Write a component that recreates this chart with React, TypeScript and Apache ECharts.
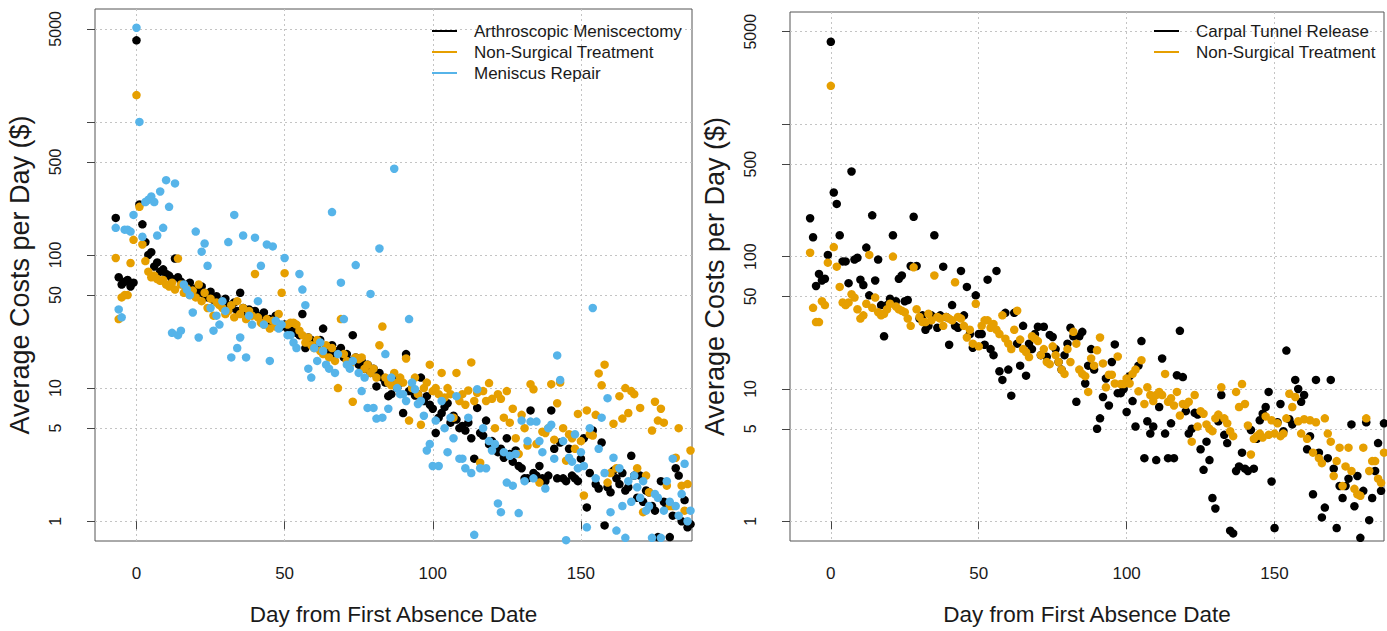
import React, { useEffect, useRef } from "react";
import * as echarts from "echarts";

// First day of every series; each array holds one value per day from START_DAY on.
const START_DAY = -7;

const xTicks = [0, 50, 100, 150];
const yTickLabels = [1, 5, 10, 50, 100, 500, 5000];
const yGridValues = [1, 5, 10, 50, 100, 500, 1000, 5000];

// Left panel
const meniscectomy = [
  190, 68, 60, 63, 65, 58, 62,
  4100, 240, 170, 125, 100, 105, 82, 88, 75, 78,
  72, 70, 66, 94, 68, 63, 60, 58, 62, 55,
  56, 52, 58, 50, 48, 53, 46, 49, 45, 44,
  47, 42, 40, 44, 38, 52, 40, 37, 39, 36,
  38, 35, 34, 37, 32, 33, 31, 35, 30, 29,
  30, 28, 27, 29, 26, 25, 36, 20, 24, 23,
  22, 21, 23, 28, 20, 19, 21, 18, 19, 20,
  17, 18, 16, 25, 17, 15, 16, 14, 15, 13,
  14, 10.3, 13, 12, 11, 8.7, 9, 12, 10, 11,
  6.5, 18, 9.5, 10, 8.8, 9, 12, 8, 8.7, 7.5,
  7, 4.6, 6, 6.5, 7.2, 7.7, 5.5, 6.2, 5.8, 5,
  5.2, 4.8, 5.5, 4.2, 2.95, 7.1, 4.6, 4.4, 5.7, 3.8,
  4, 3.6, 3.3, 3.5, 3, 4.2, 3.2, 2.8, 3.4, 2.6,
  2.5, 2.1, 2.1, 6.8, 2.3, 2.2, 2.6, 2.1, 2.0, 2.2,
  6.8, 3.5, 2.1, 3.9, 2.1, 2.0, 3.5, 2.2, 2.1, 2.0,
  2.95, 4.2, 1.27, 2.3, 4.8, 1.9, 1.76, 3.9, 0.93, 1.8,
  1.65, 2.4, 2.1, 1.9, 2.3, 1.7, 1.8, 3.1, 2.2, 1.5,
  2.2, 1.4, 1.7, 1.65, 1.3, 1.2, 0.76, 2.0, 1.4, 1.3,
  0.76, 1.1, 2.5, 2.2, 1.0, 1.44, 0.9, 0.95,
];

const kneeNonSurgical = [
  95, 33, 48, 50, 50, 87, 130,
  1590, 230, 120, 90, 75, 68, 70, 66, 64, 65,
  60, 58, 62, 55, 94, 60, 52, 56, 50, 54,
  48, 60, 45, 52, 40, 47, 35, 44, 42, 40,
  36, 38, 42, 34, 45, 36, 40, 33, 38, 35,
  72, 34, 31, 30, 33, 28, 32, 29, 36, 52,
  73, 30, 31, 31, 30, 27, 25, 22, 24, 21,
  20, 23, 19, 18, 21, 17, 20, 16, 10, 33,
  18, 16, 15, 7.9, 17, 16.5, 17, 14, 15, 13,
  14, 12, 21, 29, 12, 11, 10.5, 13, 11, 12,
  11, 16.7, 5.7, 10, 12, 9, 5.3, 10, 11, 15,
  9.5, 10, 9, 13, 8.5, 10, 9, 6, 13, 8,
  9, 7.5, 9.6, 15.6, 8, 9.2, 2.75, 9.5, 8, 10.9,
  8.3, 5, 9, 8.3, 6, 9.5, 5.5, 7, 4.2, 3.2,
  6.3, 5, 3.7, 10.7, 9.8, 3.8, 1.95, 4.7, 4.6, 5,
  10.7, 4.1, 7.7, 11, 5, 2.85, 4.5, 4.2, 3.5, 6.4,
  4, 1.56, 6.8, 4.5, 4.4, 6.3, 12.9, 10.5, 15, 1.95,
  2.3, 5.4, 2.5, 8.7, 5.9, 10, 6.5, 9.5, 9, 2.5,
  7.1, 1.17, 2.2, 1.65, 4.8, 7.9, 5.7, 7, 5.5, 1.85,
  1.3, 1.3, 3, 5, 1.85, 1.2, 1.9, 3.4,
];

const meniscusRepair = [
  160, 39, 34, 155, 155, 150, 200,
  5100, 1000, 137, 250, 260, 275, 250, 140, 300, 160,
  365, 230, 26, 345, 25, 27, 60, 55, 50, 37,
  150, 24, 106, 122, 83, 40, 27, 35, 30, 45,
  38, 125, 17, 200, 20, 24, 140, 17, 35, 30,
  135, 45, 83, 30, 120, 16, 116, 32, 28, 30,
  95, 25, 25, 22, 20, 72, 55, 42, 14, 12,
  20, 16, 22, 19, 15, 14, 210, 13, 18, 62,
  33, 15, 14, 16, 84, 13, 9.5, 12, 7.1, 51,
  7.1, 5.9, 112, 6, 18, 7, 12, 445, 10, 9,
  9, 8, 33, 11, 9.8, 7.6, 8, 6.2, 3.4, 3.8,
  2.6, 5.7, 2.6, 8, 5, 3.3, 6, 4.2, 8.7, 2.95,
  2.95, 2.5, 6, 2.3, 0.79, 9.8, 2.5, 5, 2.5, 4,
  3.4, 3.8, 1.36, 1.17, 3.3, 1.95, 3.1, 1.85, 3.2, 1.15,
  5.7, 2.0, 4, 5.6, 2.1, 5.6, 4, 3.3, 1.76, 5,
  5.3, 2.95, 17.6, 11.5, 4, 0.72, 3, 2.8, 4.5, 2.5,
  3.3, 2.6, 0.9, 5, 40, 2.1, 3.5, 6, 2.3, 8.4,
  1.17, 3, 0.85, 2.5, 1.3, 0.75, 2, 1.4, 2.2, 1.8,
  1.5, 2.0, 1.2, 1.3, 0.75, 1.6, 1.5, 0.75, 1.2, 2.0,
  1.4, 2.95, 1.3, 1.1, 1.6, 2.7, 1.0, 1.2,
];

// Right panel
const carpalTunnel = [
  195, 140, 60, 74, 66, 68, 103,
  4200, 305, 250, 145, 92, 92, 63, 440, 95, 98,
  67, 61, 117, 51, 205, 66, 95, 43, 25, 43,
  48, 145, 46, 68, 72, 46, 47, 85, 200, 85,
  34, 36, 28, 30, 36, 145, 29, 36, 84, 35,
  21.6, 43, 30, 29, 78, 36, 59, 26, 20.5, 51,
  26, 26, 21.6, 67, 20, 18, 78, 13.6, 11.7, 37.6,
  14, 8.9, 37.6, 22, 15, 30, 12.6, 22, 20, 26,
  29.5, 18, 29.5, 17.5, 25.6, 24.7, 20, 16, 14, 18,
  22, 29, 25, 8, 25, 27, 11, 15, 20, 14,
  5, 6, 8.7, 12, 7.5, 16, 21.7, 9.3, 9.3, 10,
  6.7, 12.5, 8.1, 5.2, 15, 23, 3, 5.7, 4.6, 5.2,
  2.9, 7.3, 17, 4.6, 3, 5.5, 3, 12.7, 27.5, 12.3,
  6.8, 4.6, 5, 6.6, 6.4, 3.5, 2.45, 4, 2.9, 1.5,
  1.25, 5.7, 9, 4.5, 3.9, 0.85, 0.81, 2.4, 2.6, 3.3,
  2.5, 2.4, 4.9, 2.5, 4.2, 5.8, 6.5, 7.3, 9.5, 2,
  0.89, 5.6, 7.7, 4.8, 19.5, 5.9, 5.4, 11.7, 10, 8,
  9, 3.5, 4.4, 1.6, 11.7, 3.3, 1.07, 1.27, 3, 11.7,
  2.5, 0.89, 1.85, 1.5, 1.85, 2.1, 5.4, 1.3, 2.2, 0.75,
  1.7, 5.6, 1.02, 1.5, 2.4, 3.9, 1.7, 5.5,
];

const handNonSurgical = [
  107, 41, 32, 32, 46, 43, 90,
  1950, 118, 84, 59, 45, 43, 45, 52, 49, 40,
  34, 36, 44, 103, 41, 49, 38, 36, 37, 40,
  44, 100, 42, 40, 39, 38, 34, 30, 83, 40,
  35, 32, 32, 37, 33, 72, 35, 34, 30, 35,
  34, 33, 64, 35, 34, 30, 24.5, 28, 22, 44,
  21, 30, 33, 33, 29, 31, 28, 26, 36, 24,
  22, 20, 28, 39, 23.6, 20, 19, 17.4, 25, 24,
  23, 18, 20, 16, 15.4, 21, 18, 16, 14, 13,
  20, 16, 27, 22, 14, 13, 12.5, 9.5, 17, 15,
  19.6, 24.5, 15.6, 10.3, 12.8, 12.8, 11, 17.6, 10.9, 10.9,
  12, 11, 13, 14, 9.6, 16.5, 7.7, 10.3, 9, 8.1,
  9, 9.5, 9, 13, 8, 8.5, 7.5, 9.5, 6.3, 7.7,
  7.6, 8, 4, 9, 5.2, 6.8, 6.5, 5.4, 5, 4.8,
  6, 6.4, 10.3, 6, 5.5, 4.8, 4.4, 9.5, 7.3, 10.9,
  7.7, 5.3, 3.2, 4.2, 4.4, 4.6, 4.3, 6.2, 4.5, 5.8,
  4.6, 5.5, 4.4, 4.6, 6, 9.2, 7.3, 8.7, 5.7, 4.6,
  5.9, 4.2, 5.8, 3.3, 5.6, 3, 2.75, 6, 4.6, 4,
  2.2, 2.85, 3.6, 1.85, 2.6, 3.6, 2.4, 1.76, 1.6, 1.56,
  3.6, 6, 2.4, 2.85, 2.85, 2.1, 1.95, 3.3,
];

const BLACK = "#000000";
const ORANGE = "#E69F00";
const BLUE = "#56B4E9";
const FONT = "'Liberation Sans', Arial, Helvetica, sans-serif";
const TEXT = "#1a1a1a";
const Y_MIN = 0.71;
const Y_MAX = 7050;

const toPoints = (vals: number[]) => vals.map((v, i) => [START_DAY + i, v]);

function xAxis(gridIndex: number, min: number, max: number) {
  return {
    type: "value",
    gridIndex,
    min,
    max,
    axisLine: { show: false },
    axisTick: { show: true, customValues: xTicks, length: 8, lineStyle: { color: "#444" } },
    axisLabel: { customValues: xTicks, fontSize: 17, color: TEXT, margin: 24, fontFamily: FONT },
    splitLine: { show: true, lineStyle: { color: "#c4c4c4", type: [2, 3], width: 1 } },
    name: "Day from First Absence Date",
    nameLocation: "middle",
    nameGap: 62,
    nameTextStyle: { fontSize: 22.5, color: TEXT, fontFamily: FONT },
  };
}

function logAxis(gridIndex: number) {
  return {
    type: "log",
    logBase: 10,
    gridIndex,
    position: "right",
    min: Y_MIN,
    max: Y_MAX,
    show: false,
    splitLine: { show: false },
  };
}

function labelAxis(gridIndex: number) {
  return {
    type: "value",
    gridIndex,
    position: "left",
    min: Math.log10(Y_MIN),
    max: Math.log10(Y_MAX),
    axisLine: { show: false },
    axisTick: { show: true, customValues: yGridValues.map(Math.log10), length: 8, lineStyle: { color: "#444" } },
    axisLabel: {
      customValues: yTickLabels.map(Math.log10),
      rotate: 90,
      fontSize: 16,
      color: TEXT,
      margin: 32,
      fontFamily: FONT,
      formatter: (v: number) => String(Math.round(Math.pow(10, v))),
    },
    splitLine: { show: true, lineStyle: { color: "#c4c4c4", type: [2, 3], width: 1 } },
    name: "Average Costs per Day ($)",
    nameLocation: "middle",
    nameGap: 62,
    nameTextStyle: { fontSize: 27, color: TEXT, fontFamily: FONT },
  };
}

function scatter(name: string, vals: number[], color: string, xi: number, yi: number) {
  return {
    type: "scatter",
    name,
    xAxisIndex: xi,
    yAxisIndex: yi,
    data: toPoints(vals),
    symbol: "circle",
    symbolSize: 8.5,
    itemStyle: { color, opacity: 1 },
    emphasis: { disabled: true },
  };
}

function legend(left: number, pad: number, names: string[]) {
  return {
    orient: "vertical",
    left,
    top: 16,
    icon: "rect",
    itemWidth: 25,
    itemHeight: 2,
    itemGap: 1,
    selectedMode: false,
    data: names,
    textStyle: { fontSize: 17, color: TEXT, lineHeight: 20, padding: [0, 0, 0, pad], fontFamily: FONT },
  };
}

export default function App() {
  const ref = useRef<HTMLDivElement>(null);
  useEffect(() => {
    if (!ref.current) return;
    const chart = echarts.init(ref.current, undefined, { renderer: "svg" });
    chart.setOption({
      animation: false,
      backgroundColor: "#ffffff",
      textStyle: { fontFamily: FONT },
      grid: [
        { left: 95, top: 9, width: 597, height: 537, show: true, borderColor: "#555", borderWidth: 1, backgroundColor: "transparent" },
        { left: 790, top: 12, width: 594, height: 534.5, show: true, borderColor: "#555", borderWidth: 1, backgroundColor: "transparent" },
      ],
      xAxis: [xAxis(0, -14, 187.5), xAxis(1, -13.8, 187)],
      yAxis: [logAxis(0), labelAxis(0), logAxis(1), labelAxis(1)],
      legend: [
        legend(427, 12, ["Arthroscopic Meniscectomy", "Non-Surgical Treatment", "Meniscus Repair"]),
        legend(1149, 12, ["Carpal Tunnel Release", "Non-Surgical Treatment"]),
      ],
      series: [
        scatter("Arthroscopic Meniscectomy", meniscectomy, BLACK, 0, 0),
        scatter("Non-Surgical Treatment", kneeNonSurgical, ORANGE, 0, 0),
        scatter("Meniscus Repair", meniscusRepair, BLUE, 0, 0),
        scatter("Carpal Tunnel Release", carpalTunnel, BLACK, 1, 2),
        scatter("Non-Surgical Treatment", handNonSurgical, ORANGE, 1, 2),
      ],
    });
    return () => chart.dispose();
  }, []);
  return (
    <div
      ref={ref}
      style={{ position: "fixed", left: 0, top: 0, width: 1387, height: 631, background: "#fff" }}
    />
  );
}
